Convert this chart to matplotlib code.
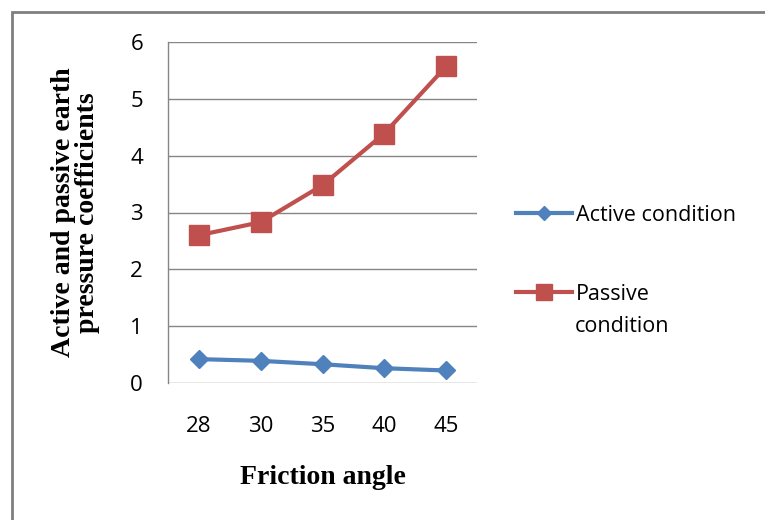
import matplotlib.pyplot as plt
from matplotlib.patches import Rectangle

# Data
angles = ["28", "30", "35", "40", "45"]
active = [0.42, 0.39, 0.33, 0.26, 0.22]
passive = [2.60, 2.83, 3.48, 4.39, 5.57]

blue = "#4F81BD"
red = "#C0504D"
grid_col = "#868686"

fig = plt.figure(figsize=(7.65, 5.2), dpi=100)
ax = fig.add_axes([168 / 765, 1 - 383 / 520, 309 / 765, 341 / 520])

# outer chart frame
fig.patches.append(Rectangle((12 / 765, -0.05), 1.1, 1 - 12 / 520 + 0.05,
                             transform=fig.transFigure, fill=False,
                             edgecolor="#7f7f7f", linewidth=2))

x = range(len(angles))
ax.plot(x, active, color=blue, linewidth=3, marker="D", markersize=9,
        label="Active condition")
ax.plot(x, passive, color=red, linewidth=3, marker="s", markersize=14,
        label="Passive")

ax.set_xlim(-0.5, len(angles) - 0.5)
ax.set_ylim(0, 6)
ax.set_yticks(range(0, 7))
ax.set_xticks(list(x))
ax.set_xticklabels(angles)
ax.yaxis.grid(True, color=grid_col, linewidth=1)
ax.set_axisbelow(True)

for side in ["top", "right", "bottom"]:
    ax.spines[side].set_visible(False)
ax.spines["left"].set_color(grid_col)
ax.spines["left"].set_linewidth(1)
ax.tick_params(length=0, labelsize=16, colors="black")
ax.tick_params(axis="y", pad=18)
ax.tick_params(axis="x", pad=24)
for t in ax.get_xticklabels() + ax.get_yticklabels():
    t.set_family("Open Sans")

ax.set_xlabel("Friction angle", family="Liberation Serif", fontweight="bold",
              fontsize=20, labelpad=20)
ax.set_ylabel("Active and passive earth\npressure coefficients",
              family="Liberation Serif", fontweight="bold", fontsize=20,
              labelpad=22, linespacing=0.95)

leg = ax.legend(loc="upper left", bbox_to_anchor=(1.065, 0.58), frameon=False,
                handlelength=2.6, handletextpad=0.15,
                labelspacing=2.7, markerscale=0.8,
                prop={"family": "Open Sans", "size": 15.5})

# second line of the passive legend entry, as Excel wraps it under the text
fig.text(575 / 765, 1 - 327 / 520, "condition", family="Open Sans",
         fontsize=15.5, ha="left", va="center")

fig.savefig("out.png", dpi=100)
